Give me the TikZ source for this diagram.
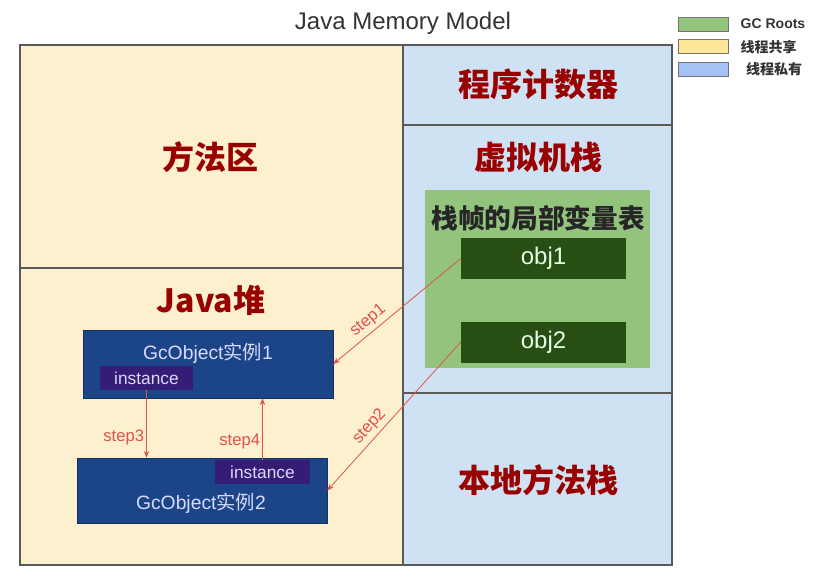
\documentclass[tikz,border=0pt]{standalone}
\usepackage{fontspec}
\setmainfont{Liberation Sans}
\newfontfamily\cjk{Noto Sans CJK SC}
\usetikzlibrary{arrows.meta, positioning}
\definecolor{shared}{HTML}{FDF0CF}
\definecolor{private}{HTML}{CFE2F3}
\definecolor{gcgreen}{HTML}{93C47D}
\definecolor{objgreen}{HTML}{274E13}
\definecolor{objblue}{HTML}{1C4587}
\definecolor{instpurple}{HTML}{351C75}
\definecolor{hdred}{HTML}{990000}
\definecolor{steprd}{HTML}{E0524A}
\definecolor{keyyellow}{HTML}{FFE599}
\definecolor{keyblue}{HTML}{A4C2F4}

\begin{document}
\begin{tikzpicture}[x=0.75pt, y=-0.75pt,
  region/.style={draw=black!65, line width=0.9pt},
  area/.style={font=\cjk\bfseries\fontsize{24}{28}\selectfont, text=hdred},
  frame/.style={fill=gcgreen, minimum width=168.75pt, minimum height=133.5pt, inner sep=0pt},
  var/.style={fill=objgreen, text=green!10, font=\fontsize{18}{20}\selectfont,
              minimum width=123.75pt, minimum height=30.75pt, inner sep=0pt},
  gcobj/.style={fill=objblue, draw=objblue!70!black, minimum width=187.5pt, inner sep=0pt},
  objtxt/.style={text=blue!15, font=\fontsize{14.5}{16}\selectfont},
  inst/.style={fill=instpurple, text=white!85!blue, font=\fontsize{13}{15}\selectfont,
               minimum height=18pt, inner sep=0pt},
  link/.style={draw=steprd, line width=0.6pt},
  steplbl/.style={text=steprd, font=\fontsize{12.5}{14}\selectfont, inner sep=1.5pt},
  key/.style={draw=black!55, minimum width=37.5pt, minimum height=10.5pt, inner sep=0pt},
  keytxt/.style={anchor=west, font=\bfseries\fontsize{10.5}{12}\selectfont, text=black!80}]
  \useasboundingbox (0,0) rectangle (814,579);

  \node[font=\fontsize{18}{20}\selectfont, text=black!80] (title) at (403,23) {Java Memory Model};

  % memory regions
  \draw[region, fill=shared] (20,45) rectangle (403,565);
  \draw[region, fill=private] (403,45) rectangle (672,565);
  \draw[region] (20,268) -- (403,268);
  \draw[region] (403,125) -- (672,125);
  \draw[region] (403,393) -- (672,393);

  \node[area] (method) at (210,157) {方法区};
  \node[area] (heap) at (211,300) {\bfseries Java{\cjk 堆}};
  \node[area] (pc) at (538,84) {程序计数器};
  \node[area] (vmstack) at (538,157) {虚拟机栈};
  \node[area] (native) at (538,480) {本地方法栈};

  % stack frame with the GC roots
  \node[frame] (locals) at (537.5,279) {};
  \node[font=\cjk\bfseries\fontsize{20}{24}\selectfont, text=black!85] (ltitle) at (538,218) {栈帧的局部变量表};
  \node[var] (obj1) at (543.5,258.5) {obj1};
  \node[var] (obj2) at (543.5,342) {obj2};

  % heap objects
  \node[gcobj, minimum height=51pt] (gc1) at (208,364) {};
  \node[objtxt] (gc1txt) at (208,353) {GcObject{\cjk 实例}1};
  \node[inst, minimum width=69.75pt] (inst1) at (146.5,378) {instance};
  \node[gcobj, minimum height=48.75pt] (gc2) at (202,490.5) {};
  \node[objtxt] (gc2txt) at (201,503) {GcObject{\cjk 实例}2};
  \node[inst, minimum width=71.25pt] (inst2) at (262.5,472) {instance};

  \draw[link, {Stealth[length=5pt,width=4pt]}-] (gc1.east) -- node[steplbl, sloped, above=1pt, pos=0.33] {step1} (obj1.west);
  \draw[link, {Stealth[length=5pt,width=4pt]}-] (gc2.east) -- node[steplbl, sloped, above=1pt, pos=0.38] {step2} (obj2.west);
  \draw[link, -{Stealth[length=5pt,width=4pt]}] (inst1.south) -- node[steplbl, left, pos=0.7] {step3} (inst1.south |- gc2.north);
  \draw[link, -{Stealth[length=5pt,width=4pt]}] (inst2.north) -- node[steplbl, left, pos=0.3] {step4} (inst2.north |- gc1.south);

  % legend
  \node[key, fill=gcgreen] (kgc) at (703,24) {};
  \node[key, fill=keyyellow, below=17pt of kgc.center, anchor=center] (kshared) {};
  \node[key, fill=keyblue, below=17pt of kshared.center, anchor=center] (kprivate) {};
  \node[keytxt] (kgctxt) at (736,24) {GC Roots};
  \node[keytxt, font=\cjk\bfseries\fontsize{10.5}{12}\selectfont] (ksharedtxt) at (kgctxt.west |- kshared) {线程共享};
  \node[keytxt, font=\cjk\bfseries\fontsize{10.5}{12}\selectfont, xshift=4pt] (kprivatetxt) at (kgctxt.west |- kprivate) {线程私有};
\end{tikzpicture}
\end{document}
